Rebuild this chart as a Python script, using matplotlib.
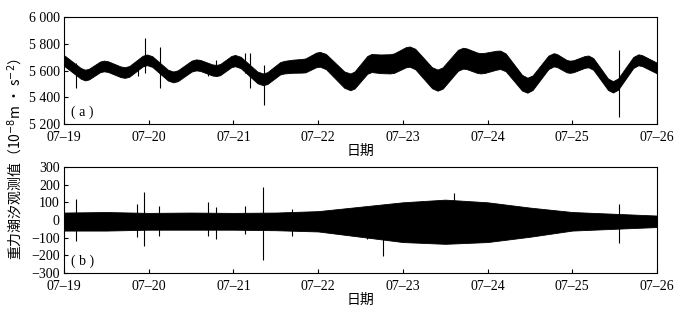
import numpy as np
import matplotlib
matplotlib.use("Agg")
import matplotlib.pyplot as plt

plt.rcParams['font.family'] = ['Liberation Serif', 'Noto Sans CJK SC']
plt.rcParams['axes.unicode_minus'] = True

# ---------------- data ----------------
day_ticks = [0, 1, 2, 3, 4, 5, 6, 7]
day_labels = ["07–19", "07–20", "07–21", "07–22", "07–23", "07–24", "07–25", "07–26"]

# (a) centre of the observed gravity band
t_a = [0.00, 0.20, 0.25, 0.294, 0.426, 0.47, 0.52, 0.67, 0.72, 0.772, 0.928, 0.98,
       1.042, 1.228, 1.29, 1.344, 1.506, 1.56, 1.608, 1.752, 1.80, 1.844, 1.976, 2.02,
       2.086, 2.284, 2.35, 2.40, 2.55, 2.60, 2.70, 2.80, 2.85, 2.976, 3.02,
       3.092, 3.308, 3.38, 3.43, 3.58, 3.63, 3.74, 3.85, 3.896, 4.034, 4.08,
       4.146, 4.344, 4.41, 4.47, 4.65, 4.71, 4.752, 4.878, 4.92, 4.966, 5.104, 5.15,
       5.214, 5.406, 5.47, 5.532, 5.718, 5.78, 5.818, 5.932, 5.97, 6.014, 6.146, 6.19,
       6.248, 6.422, 6.48, 6.54, 6.72, 6.78, 6.824, 7.00]
v_a = [5675, 5578, 5566, 5573, 5627, 5634, 5629, 5590, 5585, 5594, 5670, 5680,
       5667, 5565, 5552, 5561, 5633, 5642, 5638, 5604, 5600, 5607, 5667, 5674,
       5660, 5548, 5534, 5543, 5616, 5625, 5632, 5635, 5638, 5679, 5684,
       5667, 5532, 5515, 5529, 5642, 5656, 5650, 5650, 5655, 5699, 5704,
       5686, 5546, 5528, 5544, 5676, 5692, 5688, 5658, 5654, 5657, 5677, 5680,
       5661, 5509, 5490, 5509, 5661, 5680, 5675, 5633, 5628, 5632, 5664, 5668,
       5649, 5497, 5478, 5498, 5660, 5680, 5674, 5618]
# (a) half width of the noisy band
t_wa = [0, 1, 2, 2.5, 3, 3.5, 4, 4.5, 5, 5.5, 6, 7]
w_a = [40, 40, 42, 45, 55, 65, 75, 80, 75, 55, 45, 40]
# (a) spikes
spk_a_t = [0.14, 0.87, 0.96, 1.13, 1.70, 1.79, 2.14, 2.20, 2.36, 6.55]
spk_a_hi = [5656, 5640, 5843, 5778, 5640, 5680, 5730, 5730, 5641, 5753]
spk_a_lo = [5469, 5560, 5581, 5467, 5560, 5590, 5581, 5469, 5342, 5254]

# (b) residual envelope
t_b = [0, 0.5, 1, 1.5, 2, 2.5, 3, 3.5, 4, 4.5, 5, 5.5, 6, 6.5, 7]
up_b = [42, 45, 40, 42, 40, 42, 50, 75, 100, 115, 100, 70, 45, 35, 25]
lo_b = [-60, -60, -55, -55, -55, -58, -65, -95, -125, -135, -125, -95, -60, -50, -40]
# (b) spikes
spk_b_t = [0.14, 0.86, 0.95, 1.12, 1.70, 1.79, 2.14, 2.35, 2.69, 3.58, 3.77, 4.60, 6.55]
spk_b_hi = [118, 90, 156, 78, 100, 72, 78, 189, 61, 60, 80, 150, 90]
spk_b_lo = [-120, -95, -150, -89, -89, -106, -78, -228, -89, -110, -205, -120, -130]

# ---------------- figure ----------------
fig = plt.figure(figsize=(6.94, 3.11), dpi=100)
ax1 = fig.add_axes([0.0922, 0.6013, 0.8545, 0.3440])
ax2 = fig.add_axes([0.0922, 0.1222, 0.8545, 0.3410])

w_on_a = np.interp(t_a, t_wa, w_a)
ax1.fill_between(t_a, np.array(v_a) - w_on_a, np.array(v_a) + w_on_a,
                 color='black', lw=0.6, edgecolor='black')
ax1.vlines(spk_a_t, spk_a_lo, spk_a_hi, color='black', lw=0.8)
ax1.set_ylim(5200, 6000)
ax1.set_yticks([5200, 5400, 5600, 5800, 6000])
ax1.set_yticklabels(["5 200", "5 400", "5 600", "5 800", "6 000"])
ax1.text(0.012, 0.08, "( a )", transform=ax1.transAxes, fontsize=10)

ax2.fill_between(t_b, lo_b, up_b, color='black', lw=0.6, edgecolor='black')
ax2.vlines(spk_b_t, spk_b_lo, spk_b_hi, color='black', lw=0.8)
ax2.set_ylim(-300, 300)
ax2.set_yticks([-300, -200, -100, 0, 100, 200, 300])
ax2.text(0.012, 0.08, "( b )", transform=ax2.transAxes, fontsize=10)

for ax in (ax1, ax2):
    ax.set_xlim(0, 7)
    ax.set_xticks(day_ticks)
    ax.set_xticklabels(day_labels)
    ax.tick_params(direction='in', length=3, width=0.8, labelsize=10)
    ax.tick_params(axis='x', pad=5)
    ax.tick_params(axis='y', pad=3)
    ax.set_xlabel("日期", fontsize=10, family='Noto Sans CJK SC', labelpad=0)
    for s in ax.spines.values():
        s.set_linewidth(0.8)

fig.text(0.022, 0.489, "重力潮汐观测值（10$^{-8}$m · s$^{-2}$）", rotation=90,
         ha='center', va='center', fontsize=10,
         family=['Noto Sans CJK SC', 'Liberation Serif'])

fig.savefig("out.png", dpi=100)
